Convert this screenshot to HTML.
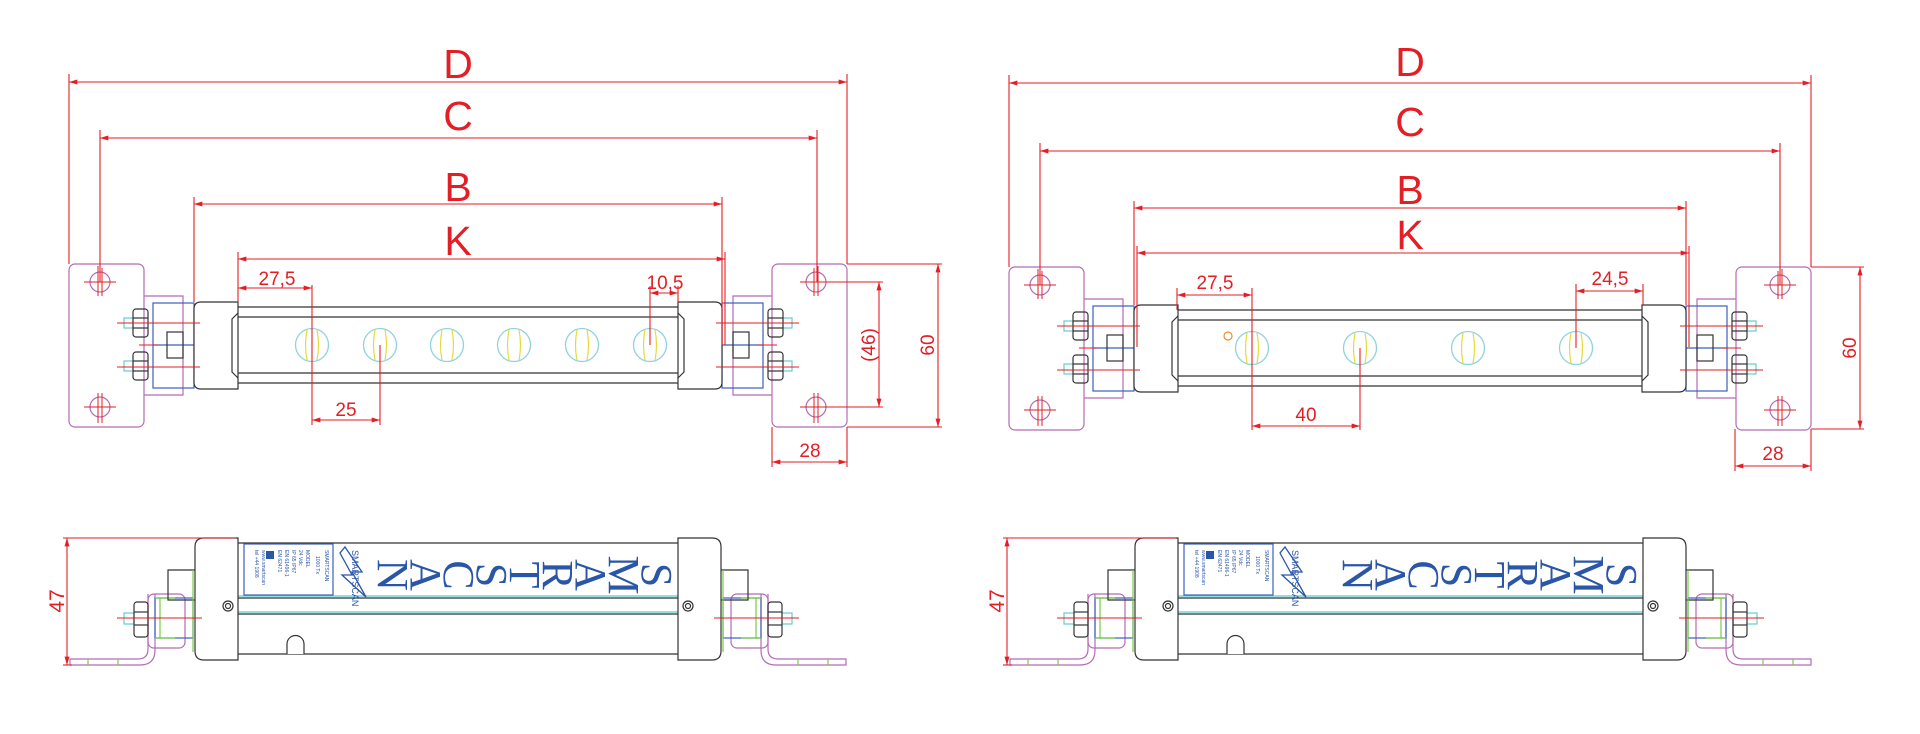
<!DOCTYPE html>
<html><head><meta charset="utf-8"><style>
html,body{margin:0;padding:0;background:#fff;width:1920px;height:734px;overflow:hidden}
svg{display:block}
</style></head><body>
<svg width="1920" height="734" viewBox="0 0 1920 734" xmlns="http://www.w3.org/2000/svg" font-family="Liberation Sans, sans-serif">
<defs>
<marker id="a" viewBox="0 0 10 6" refX="10" refY="3" markerWidth="9" markerHeight="5" orient="auto-start-reverse" markerUnits="userSpaceOnUse"><path d="M0,0L10,3L0,6z" fill="#e31e24"/></marker>
<g id="led">
<circle r="16.5" fill="none" stroke="#8fd3e3" stroke-width="1.3"/>
<path d="M-5,-15Q-8,0 -5,15M5,-15Q8,0 5,15" fill="none" stroke="#e4dc3a" stroke-width="1.2"/>
</g>
<g id="tl" fill="none" stroke-width="1.2">
<rect x="69" y="264" width="75" height="163" rx="6" stroke="#b56bb5"/>
<path d="M144,296H183V395H144" stroke="#b56bb5"/>
<rect x="153" y="303" width="41" height="85" stroke="#3a5fc0"/>
<line x1="153" y1="345" x2="194" y2="345" stroke="#3a5fc0"/>
<rect x="167" y="332" width="16" height="26" stroke="#333"/>
<circle cx="100" cy="282" r="10" stroke="#b56bb5"/>
<circle cx="100" cy="407" r="10" stroke="#b56bb5"/>
<g stroke="#333">
<rect x="124" y="318" width="9" height="10" stroke="#6cc" />
<rect x="133" y="309" width="15" height="28" rx="3"/>
<line x1="133" y1="318" x2="148" y2="318"/><line x1="133" y1="328" x2="148" y2="328"/>
<rect x="124" y="361" width="9" height="10" stroke="#6cc"/>
<rect x="133" y="352" width="15" height="28" rx="3"/>
<line x1="133" y1="361" x2="148" y2="361"/><line x1="133" y1="371" x2="148" y2="371"/>
<path d="M238,302H201Q194,302 194,309V382Q194,389 201,389H238Z" fill="#fff"/>
<polyline points="238,313 232,319 232,372 238,378"/>
</g>
<g stroke="#e31e24" stroke-width="1">
<line x1="117" y1="323" x2="200" y2="323"/><line x1="117" y1="367" x2="200" y2="367"/>
<line x1="139" y1="345" x2="158" y2="345"/>
<line x1="84" y1="282" x2="116" y2="282"/><line x1="98" y1="266" x2="98" y2="296"/><line x1="102" y1="268" x2="102" y2="296"/>
<line x1="84" y1="407" x2="116" y2="407"/><line x1="98" y1="393" x2="98" y2="423"/><line x1="102" y1="393" x2="102" y2="423"/>
</g>
</g>
<g id="bl" fill="none" stroke-width="1.2">
<path d="M155,594V650Q155,665 140,665H70V659H138Q148,659 148,649V594" stroke="#b56bb5"/>
<rect x="148" y="594" width="37" height="54" rx="6" stroke="#b56bb5"/>
<line x1="88" y1="659" x2="88" y2="665" stroke="#7c4"/><line x1="118" y1="659" x2="118" y2="665" stroke="#7c4"/>
<rect x="155" y="598" width="38" height="40" stroke="#3a5fc0"/>
<line x1="155" y1="598" x2="175" y2="598" stroke="#7c4"/><line x1="155" y1="638" x2="175" y2="638" stroke="#7c4"/>
<line x1="160" y1="598" x2="160" y2="638" stroke="#7c4"/>
<polyline points="195,570 168,570 168,600 195,600" stroke="#333"/>
<line x1="193" y1="570" x2="193" y2="652" stroke="#7c4"/>
<rect x="124" y="613" width="10" height="11" stroke="#6cc"/>
<rect x="134" y="602" width="14" height="35" rx="3" stroke="#333"/>
<line x1="134" y1="612" x2="148" y2="612" stroke="#333"/><line x1="134" y1="625" x2="148" y2="625" stroke="#333"/>
<path d="M238,538H204Q195,538 195,547V651Q195,660 204,660H238Z" fill="#fff" stroke="#333"/>
<circle cx="228" cy="606" r="5" stroke="#333"/><circle cx="228" cy="606" r="2.5" stroke="#333"/>
<line x1="117" y1="618" x2="202" y2="618" stroke="#e31e24" stroke-width="1"/>
</g>
<g id="word" fill="#2a56a8" font-size="44" font-family="Liberation Serif, serif">
<text transform="translate(657,575) rotate(90)" text-anchor="middle" dy="15">S</text>
<text transform="translate(624,575) rotate(90)" text-anchor="middle" dy="15">M</text>
<text transform="translate(591,575) rotate(90)" text-anchor="middle" dy="15">A</text>
<text transform="translate(558,575) rotate(90)" text-anchor="middle" dy="15">R</text>
<text transform="translate(525,575) rotate(90)" text-anchor="middle" dy="15">T</text>
<text transform="translate(492,575) rotate(90)" text-anchor="middle" dy="15">S</text>
<text transform="translate(459,575) rotate(90)" text-anchor="middle" dy="15">C</text>
<text transform="translate(426,575) rotate(90)" text-anchor="middle" dy="15">A</text>
<text transform="translate(393,575) rotate(90)" text-anchor="middle" dy="15">N</text>
</g>
<g id="lbl">
<rect x="244" y="544" width="89" height="51" fill="none" stroke="#3a5fc0" stroke-width="1.2"/>
<g fill="#2a56a8" font-size="5">
<text transform="translate(325,550) rotate(90)">SMARTSCAN</text>
<text transform="translate(316,556) rotate(90)">1000 Tx</text>
<text transform="translate(306,550) rotate(90)">MODEL</text>
<text transform="translate(299,550) rotate(90)">24 Vdc</text>
<text transform="translate(292,550) rotate(90)">IP 65 IP67</text>
<text transform="translate(285,550) rotate(90)">EN 61496-1</text>
<text transform="translate(278,550) rotate(90)">EN 62471</text>
<text transform="translate(262,550) rotate(90)">www.smartscan</text>
<text transform="translate(255,550) rotate(90)">tel +44 1908</text>
</g>
<rect x="266" y="551" width="8" height="8" fill="#2a56a8"/>
<path d="M345,547L362,572L352,572L366,597L342,575L352,575L340,553Z" fill="none" stroke="#2a56a8" stroke-width="1.3"/>
<text transform="translate(352,550) rotate(90)" font-size="9" fill="#2a56a8">SMARTSCAN</text>
</g>
</defs>

<g stroke="#333" stroke-width="1.2">
<line x1="238" y1="307" x2="678" y2="307"/><line x1="238" y1="317" x2="678" y2="317"/>
<line x1="238" y1="373" x2="678" y2="373"/><line x1="238" y1="383" x2="678" y2="383"/>
</g>
<use href="#led" x="312" y="345"/><use href="#led" x="380" y="345"/><use href="#led" x="447" y="345"/>
<use href="#led" x="514" y="345"/><use href="#led" x="582" y="345"/><use href="#led" x="650" y="345"/>
<use href="#tl"/>
<use href="#tl" transform="translate(916,0) scale(-1,1)"/>

<g stroke="#e31e24" stroke-width="1.1" fill="none">
<line x1="69" y1="74" x2="69" y2="264"/><line x1="847" y1="74" x2="847" y2="264"/>
<line x1="69" y1="82" x2="847" y2="82" marker-start="url(#a)" marker-end="url(#a)"/>
<line x1="100" y1="130" x2="100" y2="282"/><line x1="817" y1="130" x2="817" y2="282"/>
<line x1="100" y1="138" x2="817" y2="138" marker-start="url(#a)" marker-end="url(#a)"/>
<line x1="194" y1="197" x2="194" y2="302"/><line x1="722" y1="197" x2="722" y2="345"/>
<line x1="194" y1="204" x2="722" y2="204" marker-start="url(#a)" marker-end="url(#a)"/>
<line x1="238" y1="252" x2="238" y2="302"/><line x1="725" y1="252" x2="725" y2="345"/>
<line x1="238" y1="259" x2="725" y2="259" marker-start="url(#a)" marker-end="url(#a)"/>
<line x1="312" y1="285" x2="312" y2="425"/><line x1="380" y1="345" x2="380" y2="425"/>
<line x1="238" y1="288" x2="312" y2="288" marker-start="url(#a)" marker-end="url(#a)"/>
<line x1="312" y1="420" x2="380" y2="420" marker-start="url(#a)" marker-end="url(#a)"/>
<line x1="650" y1="286" x2="650" y2="345"/><line x1="678" y1="286" x2="678" y2="302"/>
<line x1="650" y1="293" x2="678" y2="293" marker-start="url(#a)" marker-end="url(#a)"/>
<line x1="800" y1="282" x2="883" y2="282"/><line x1="800" y1="407" x2="883" y2="407"/>
<line x1="879" y1="282" x2="879" y2="407" marker-start="url(#a)" marker-end="url(#a)"/>
<line x1="847" y1="264" x2="942" y2="264"/><line x1="847" y1="427" x2="942" y2="427"/>
<line x1="938" y1="264" x2="938" y2="427" marker-start="url(#a)" marker-end="url(#a)"/>
<line x1="772" y1="427" x2="772" y2="467"/><line x1="847" y1="427" x2="847" y2="467"/>
<line x1="772" y1="462" x2="847" y2="462" marker-start="url(#a)" marker-end="url(#a)"/>
</g>
<g fill="#e31e24" text-anchor="middle">
<text x="458" y="78" font-size="41">D</text>
<text x="458" y="130" font-size="41">C</text>
<text x="458" y="201" font-size="41">B</text>
<text x="458" y="255" font-size="41">K</text>
<text x="277" y="285" font-size="19">27,5</text>
<text x="346" y="416" font-size="19">25</text>
<text x="665" y="289" font-size="19">10,5</text>
<text transform="translate(875,345) rotate(-90)" font-size="19">(46)</text>
<text transform="translate(934,345) rotate(-90)" font-size="19">60</text>
<text x="810" y="457" font-size="19">28</text>
</g>

<g stroke="#333" stroke-width="1.2">
<line x1="1177" y1="310" x2="1643" y2="310"/><line x1="1177" y1="320" x2="1643" y2="320"/>
<line x1="1177" y1="376" x2="1643" y2="376"/><line x1="1177" y1="386" x2="1643" y2="386"/>
</g>
<use href="#led" x="1252" y="348"/><use href="#led" x="1360" y="348"/><use href="#led" x="1468" y="348"/><use href="#led" x="1576" y="348"/>
<circle cx="1228" cy="336" r="4" fill="none" stroke="#f08a30" stroke-width="1.2"/>
<use href="#tl" transform="translate(940,3)"/>
<use href="#tl" transform="translate(1880,3) scale(-1,1)"/>
<g stroke="#e31e24" stroke-width="1.1" fill="none">
<line x1="1009" y1="75" x2="1009" y2="267"/><line x1="1811" y1="75" x2="1811" y2="267"/>
<line x1="1009" y1="83" x2="1811" y2="83" marker-start="url(#a)" marker-end="url(#a)"/>
<line x1="1040" y1="143" x2="1040" y2="285"/><line x1="1780" y1="143" x2="1780" y2="285"/>
<line x1="1040" y1="151" x2="1780" y2="151" marker-start="url(#a)" marker-end="url(#a)"/>
<line x1="1134" y1="201" x2="1134" y2="305"/><line x1="1686" y1="201" x2="1686" y2="305"/>
<line x1="1134" y1="208" x2="1686" y2="208" marker-start="url(#a)" marker-end="url(#a)"/>
<line x1="1137" y1="246" x2="1137" y2="347"/><line x1="1689" y1="246" x2="1689" y2="347"/>
<line x1="1137" y1="253" x2="1689" y2="253" marker-start="url(#a)" marker-end="url(#a)"/>
<line x1="1177" y1="288" x2="1177" y2="310"/><line x1="1252" y1="288" x2="1252" y2="430"/>
<line x1="1177" y1="295" x2="1252" y2="295" marker-start="url(#a)" marker-end="url(#a)"/>
<line x1="1360" y1="348" x2="1360" y2="430"/>
<line x1="1252" y1="426" x2="1360" y2="426" marker-start="url(#a)" marker-end="url(#a)"/>
<line x1="1576" y1="284" x2="1576" y2="348"/><line x1="1643" y1="284" x2="1643" y2="305"/>
<line x1="1576" y1="291" x2="1643" y2="291" marker-start="url(#a)" marker-end="url(#a)"/>
<line x1="1811" y1="267" x2="1864" y2="267"/><line x1="1811" y1="429" x2="1864" y2="429"/>
<line x1="1860" y1="267" x2="1860" y2="429" marker-start="url(#a)" marker-end="url(#a)"/>
<line x1="1735" y1="429" x2="1735" y2="471"/><line x1="1811" y1="429" x2="1811" y2="471"/>
<line x1="1735" y1="466" x2="1811" y2="466" marker-start="url(#a)" marker-end="url(#a)"/>
</g>
<g fill="#e31e24" text-anchor="middle">
<text x="1410" y="76" font-size="41">D</text>
<text x="1410" y="136" font-size="41">C</text>
<text x="1410" y="204" font-size="41">B</text>
<text x="1410" y="249" font-size="41">K</text>
<text x="1215" y="289" font-size="19">27,5</text>
<text x="1306" y="421" font-size="19">40</text>
<text x="1610" y="285" font-size="19">24,5</text>
<text transform="translate(1856,348) rotate(-90)" font-size="19">60</text>
<text x="1773" y="460" font-size="19">28</text>
</g>

<g stroke-width="1.2" fill="none">
<line x1="238" y1="543" x2="678" y2="543" stroke="#333"/>
<line x1="238" y1="596" x2="678" y2="596" stroke="#5cc"/>
<line x1="238" y1="598" x2="678" y2="598" stroke="#333"/>
<line x1="238" y1="612" x2="678" y2="612" stroke="#5cc"/>
<line x1="238" y1="614" x2="678" y2="614" stroke="#333"/>
<line x1="238" y1="654" x2="678" y2="654" stroke="#333"/>
<path d="M287,654V644A8.5,8.5 0 0 1 304,644V654" stroke="#333" fill="#fff"/>
</g>
<use href="#lbl"/>
<use href="#word"/>
<use href="#bl"/>
<use href="#bl" transform="translate(916,0) scale(-1,1)"/>
<g stroke="#e31e24" stroke-width="1.1">
<line x1="63" y1="538" x2="236" y2="538"/><line x1="63" y1="665" x2="72" y2="665"/>
<line x1="67" y1="538" x2="67" y2="665" marker-start="url(#a)" marker-end="url(#a)"/>
</g>
<text transform="translate(64,601) rotate(-90)" text-anchor="middle" font-size="21" fill="#e31e24">47</text>

<g stroke-width="1.2" fill="none">
<line x1="1178" y1="543" x2="1643" y2="543" stroke="#333"/>
<line x1="1178" y1="596" x2="1643" y2="596" stroke="#5cc"/>
<line x1="1178" y1="598" x2="1643" y2="598" stroke="#333"/>
<line x1="1178" y1="612" x2="1643" y2="612" stroke="#5cc"/>
<line x1="1178" y1="614" x2="1643" y2="614" stroke="#333"/>
<line x1="1178" y1="654" x2="1643" y2="654" stroke="#333"/>
<path d="M1227,654V644A8.5,8.5 0 0 1 1244,644V654" stroke="#333" fill="#fff"/>
</g>
<use href="#lbl" transform="translate(940,0)"/>
<use href="#word" transform="translate(965,0)"/>
<use href="#bl" transform="translate(940,0)"/>
<use href="#bl" transform="translate(1881,0) scale(-1,1)"/>
<g stroke="#e31e24" stroke-width="1.1">
<line x1="1003" y1="538" x2="1176" y2="538"/><line x1="1003" y1="665" x2="1012" y2="665"/>
<line x1="1007" y1="538" x2="1007" y2="665" marker-start="url(#a)" marker-end="url(#a)"/>
</g>
<text transform="translate(1004,601) rotate(-90)" text-anchor="middle" font-size="21" fill="#e31e24">47</text>
</svg>
</body></html>
